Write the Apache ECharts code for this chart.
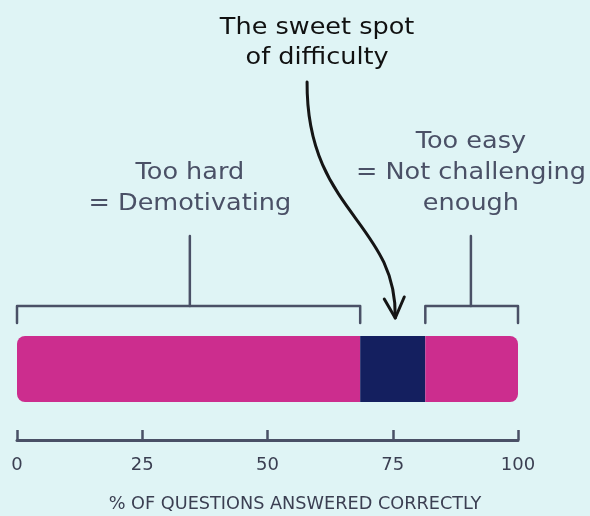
<!DOCTYPE html>
<html><head><meta charset="utf-8">
<style>html,body{margin:0;padding:0;background:#dff4f5;}#c{width:590px;height:516px;}</style>
<script src="https://cdn.jsdelivr.net/npm/echarts@6/dist/echarts.min.js"></script>
</head><body><div id="c"></div>
<script>
const segmentNames = ['Too hard', 'Sweet spot', 'Too easy'];
const segmentValues = [68.5, 13, 18.5];
const segmentColors = ['#cc2d8e', '#141f5f', '#cc2d8e'];
const tickValues = [0, 25, 50, 75, 100];
const bracketFrom = [0, 81.5];
const bracketTo = [68.5, 100];
const bracketStem = [34.5, 90.6];
const bracketLabels = ['Too hard\n= Demotivating', 'Too easy\n= Not challenging\nenough'];
const arrowFrom = [57.9];
const arrowTo = [75.5];
const arrowLabel = 'The sweet spot\nof difficulty';
const axisTitle = '% OF QUESTIONS ANSWERED CORRECTLY';

const FONT = 'DejaVu Sans';
const INK = '#4a5066';
const WIDEN = 1.11;

const chart = echarts.init(document.getElementById('c'));

const barSeries = segmentValues.map((v, i) => ({
  type: 'bar', name: segmentNames[i], stack: 'all', barWidth: 66,
  data: [v],
  itemStyle: {
    color: segmentColors[i],
    borderRadius: i === 0 ? [8, 0, 0, 8] : (i === segmentValues.length - 1 ? [0, 8, 8, 0] : 0)
  },
  silent: true
}));

const bracketSeries = {
  type: 'custom',
  data: bracketFrom.map((f, i) => [f, bracketTo[i], bracketStem[i], i]),
  renderItem: function (params, api) {
    const a = api.coord([api.value(0), 0]);
    const b = api.coord([api.value(1), 0]);
    const s = api.coord([api.value(2), 0]);
    const cy = a[1];
    const top = cy - 63, leg = cy - 46, stemTop = cy - 133;
    const idx = api.value(3);
    const st = { stroke: INK, lineWidth: 2.5, fill: null, lineJoin: 'round', lineCap: 'round' };
    return {
      type: 'group',
      children: [
        { type: 'polyline', shape: { points: [[a[0], leg], [a[0], top], [b[0], top], [b[0], leg]] }, style: st },
        { type: 'line', shape: { x1: s[0], y1: top, x2: s[0], y2: stemTop }, style: st },
        { type: 'text', x: s[0], y: stemTop - 16, scaleX: WIDEN,
          style: { text: bracketLabels[idx], x: 0, y: 0, align: 'center', verticalAlign: 'bottom',
          fill: INK, font: '23px "' + FONT + '"', lineHeight: 31 } }
      ]
    };
  },
  silent: true, z: 5
};

const arrowSeries = {
  type: 'custom',
  data: arrowFrom.map((f, i) => [f, arrowTo[i]]),
  renderItem: function (params, api) {
    const s = api.coord([api.value(0), 0]);
    const e = api.coord([api.value(1), 0]);
    const cy = s[1];
    const y1 = cy - 287, y2 = cy - 51;
    const st = { stroke: '#151515', lineWidth: 3, fill: null, lineCap: 'round', lineJoin: 'round' };
    return {
      type: 'group',
      children: [
        { type: 'bezierCurve', shape: { x1: s[0], y1: y1, cpx1: s[0] - 1, cpy1: y1 + 130, cpx2: e[0] + 2, cpy2: y1 + 140, x2: e[0], y2: y2 }, style: st },
        { type: 'polyline', shape: { points: [[e[0] - 11, y2 - 19], [e[0], y2], [e[0] + 9, y2 - 21]] }, style: st },
        { type: 'text', x: s[0] + 10, y: y1 - 39, scaleX: WIDEN,
          style: { text: arrowLabel, x: 0, y: 0, align: 'center', verticalAlign: 'middle',
          fill: '#111111', font: '23px "' + FONT + '"', lineHeight: 30 } }
      ]
    };
  },
  silent: true, z: 6
};

chart.setOption({
  backgroundColor: '#dff4f5',
  animation: false,
  grid: { left: 17, right: 72, top: 298, bottom: 76, containLabel: false },
  xAxis: {
    type: 'value', min: 0, max: 100, interval: 25,
    axisLine: { show: true, lineStyle: { color: INK, width: 3 } },
    axisTick: { show: true, inside: true, length: 10, lineStyle: { color: INK, width: 2.5 } },
    splitLine: { show: false },
    axisLabel: { margin: 16, color: '#3b3f52', fontSize: 18, fontFamily: FONT,
      customValues: tickValues, formatter: v => String(v) }
  },
  yAxis: { type: 'category', data: ['Questions'], show: false },
  graphic: [{
    type: 'text', x: 295, y: 505, scaleX: 1.04,
    style: { text: axisTitle, x: 0, y: 0, align: 'center', verticalAlign: 'middle',
      fill: '#3b3f52', font: '17px "' + FONT + '"' }
  }],
  series: [...barSeries, bracketSeries, arrowSeries]
});
</script></body></html>
